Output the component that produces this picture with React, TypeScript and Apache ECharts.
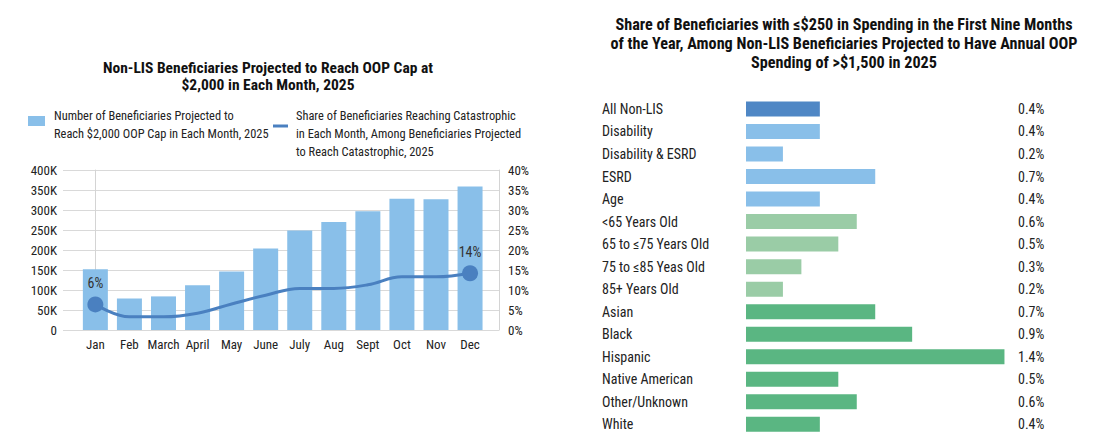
import React, { useEffect, useRef } from "react";
import * as echarts from "echarts";

const FONT = "'Roboto Condensed', 'Liberation Sans Narrow', 'DejaVu Sans Condensed', Roboto, sans-serif";

const months = ["Jan", "Feb", "March", "April", "May", "June", "July", "Aug", "Sept", "Oct", "Nov", "Dec"];
const beneficiaries = [152000, 79000, 84000, 112000, 146000, 204000, 249000, 270000, 297000, 328000, 327000, 359000];
const shareCatastrophic = [6.4, 3.3, 3.3, 4.2, 6.5, 8.7, 10.4, 10.4, 11.3, 13.3, 13.3, 14.2];

const groups = [
  "All Non-LIS", "Disability", "Disability & ESRD", "ESRD", "Age",
  "<65 Years Old", "65 to \u226475 Years Old", "75 to \u226485 Yeas Old", "85+ Years Old",
  "Asian", "Black", "Hispanic", "Native American", "Other/Unknown", "White",
];
const shareLow = [0.4, 0.4, 0.2, 0.7, 0.4, 0.6, 0.5, 0.3, 0.2, 0.7, 0.9, 1.4, 0.5, 0.6, 0.4];
const groupKind = ["all", "status", "status", "status", "status", "age", "age", "age", "age", "race", "race", "race", "race", "race", "race"];
const kindColor: Record<string, string> = { all: "#4F87C5", status: "#89BFE9", age: "#9ACCA6", race: "#5AB682" };

export default function App() {
  const ref = useRef<HTMLDivElement>(null);
  useEffect(() => {
    document.body.style.margin = "0";
    const chart = echarts.init(ref.current!, undefined, { renderer: "svg" });
    const textColor = "#222";
    chart.setOption({
      animation: false,
      textStyle: { fontFamily: FONT },
      graphic: [
        {
          type: "text", x: 268, y: 59,
          style: {
            text: "Non-LIS Beneficiaries Projected to Reach OOP Cap at\n$2,000 in Each Month, 2025",
            font: `bold 15.5px ${FONT}`, fill: "#111", align: "center", lineHeight: 17,
          },
        },
        { type: "rect", shape: { x: 28, y: 116, width: 17, height: 10 }, style: { fill: "#89BFE9" } },
        {
          type: "text", x: 54, y: 106,
          style: {
            text: "Number of Beneficiaries Projected to\nReach $2,000 OOP Cap in Each Month, 2025",
            font: `12.4px ${FONT}`, fill: textColor, lineHeight: 18,
          },
        },
        { type: "line", shape: { x1: 273, y1: 126, x2: 288, y2: 126 }, style: { stroke: "#4A80C0", lineWidth: 3 } },
        {
          type: "text", x: 296, y: 106,
          style: {
            text: "Share of Beneficiaries Reaching Catastrophic\nin Each Month, Among Beneficiaries Projected\nto Reach Catastrophic, 2025",
            font: `12.4px ${FONT}`, fill: textColor, lineHeight: 18,
          },
        },
        {
          type: "text", x: 844, y: 15,
          style: {
            text: "Share of Beneficiaries with \u2264$250 in Spending in the First Nine Months\nof the Year, Among Non-LIS Beneficiaries Projected to Have Annual OOP\nSpending of >$1,500 in 2025",
            font: `bold 16.2px ${FONT}`, fill: "#111", align: "center", lineHeight: 19,
          },
        },
      ],
      grid: [
        { left: 63, right: 621, top: 170, bottom: 113 },
        { left: 746, right: 110, top: 97.7, bottom: 7.4 },
      ],
      xAxis: [
        {
          type: "value", gridIndex: 0, min: -0.95, max: 11.85,
          axisLine: { show: false }, axisTick: { show: false }, splitLine: { show: false },
          axisLabel: {
            customValues: months.map((_, i) => i),
            formatter: (v: number) => months[Math.round(v)] ?? "",
            fontSize: 13, color: textColor, margin: 8,
          },
        },
        { type: "value", gridIndex: 1, min: 0, max: 1.43, show: false },
      ],
      yAxis: [
        {
          type: "value", gridIndex: 0, min: 0, max: 400000, interval: 50000,
          axisLine: { show: true, lineStyle: { color: "#d4d4d4" } }, axisTick: { show: false },
          splitLine: { lineStyle: { color: "#d9d9d9", width: 1 } },
          axisLabel: {
            fontSize: 13, color: textColor, margin: 6,
            formatter: (v: number) => (v === 0 ? "0" : `${v / 1000}K`),
          },
        },
        {
          type: "value", gridIndex: 0, min: 0, max: 40, interval: 5, position: "right",
          axisLine: { show: true, lineStyle: { color: "#d4d4d4" } }, axisTick: { show: false },
          splitLine: { show: false },
          axisLabel: { fontSize: 13, color: textColor, margin: 9, formatter: (v: number) => `${v}%` },
        },
        {
          type: "category", gridIndex: 1, inverse: true, data: groups,
          axisLine: { show: false }, axisTick: { show: false },
          axisLabel: { align: "left", margin: 144, fontSize: 14, color: textColor },
        },
        {
          type: "category", gridIndex: 1, inverse: true, position: "right",
          data: shareLow.map((v) => `${v.toFixed(1)}%`),
          axisLine: { show: false }, axisTick: { show: false },
          axisLabel: { align: "left", margin: 8, fontSize: 14, color: textColor },
        },
      ],
      series: [
        {
          type: "bar", xAxisIndex: 0, yAxisIndex: 0, barWidth: 25,
          itemStyle: { color: "#89BFE9" },
          data: beneficiaries.map((v, i) => [i, v]),
        },
        {
          type: "line", xAxisIndex: 0, yAxisIndex: 1, smooth: 0.4, z: 5,
          lineStyle: { color: "#4A80C0", width: 3 },
          itemStyle: { color: "#4A80C0" },
          symbol: "circle",
          symbolSize: (_v: any, p: any) => (p.dataIndex === 0 || p.dataIndex === shareCatastrophic.length - 1 ? 16 : 0),
          showAllSymbol: true,
          data: shareCatastrophic.map((v, i) => ({
            value: [i, v],
            label: {
              show: i === 0 || i === shareCatastrophic.length - 1,
              position: "top", distance: 6, fontSize: 14, color: "#333",
              formatter: () => `${Math.round(v)}%`,
            },
          })),
        },
        {
          type: "bar", xAxisIndex: 1, yAxisIndex: 2, barWidth: 15,
          data: shareLow.map((v, i) => ({ value: v, itemStyle: { color: kindColor[groupKind[i]] } })),
        },
      ],
    });
    return () => chart.dispose();
  }, []);
  return <div ref={ref} style={{ width: 1120, height: 443 }} />;
}
